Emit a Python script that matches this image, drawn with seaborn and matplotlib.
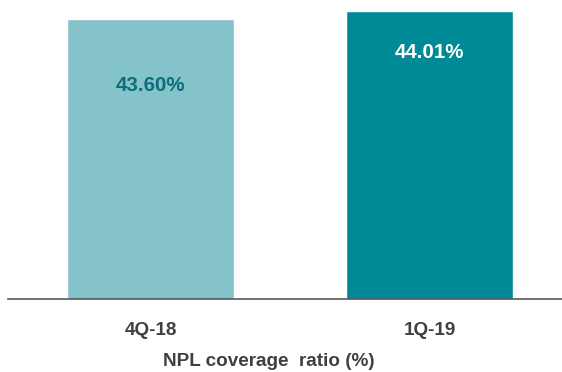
import matplotlib
matplotlib.use("Agg")
import matplotlib.pyplot as plt
import seaborn as sns
import pandas as pd

categories = ["4Q-18", "1Q-19"]
values = [43.60, 44.01]
labels = ["43.60%", "44.01%"]
bar_colors = ["#84C3CA", "#008996"]
label_colors = ["#0B6E78", "#FFFFFF"]

sns.set_style("white")
plt.rcParams['font.family'] = ['Liberation Sans', 'DejaVu Sans']

df = pd.DataFrame({"cat": categories, "val": values})

fig = plt.figure(figsize=(5.62, 3.72), dpi=100)
ax = fig.add_axes([8/562, (372-298.5)/372, 1-8/562, 298.5/372])
sns.barplot(data=df, x="cat", y="val", hue="cat", palette=bar_colors,
            width=0.6, legend=False, ax=ax, saturation=1)
ax.set_ylim(29.2, 44.58)
ax.set_xlim(-0.511, 1.475)

label_y = [40.2, 41.87]
for i, (lab, c) in enumerate(zip(labels, label_colors)):
    ax.text(i, label_y[i], lab, ha="center", va="center", color=c,
            fontsize=14.8, fontweight="bold")

for s in ["left", "top", "right"]:
    ax.spines[s].set_visible(False)
ax.spines["bottom"].set_color("#595959")
ax.spines["bottom"].set_linewidth(1.2)
ax.set_yticks([])
ax.tick_params(axis="x", length=0, pad=17, labelsize=13.6, labelcolor="#404040")
for t in ax.get_xticklabels():
    t.set_fontweight("bold")
ax.set_xlabel("NPL coverage  ratio (%)", fontsize=13.6, fontweight="bold",
              color="#404040")
ax.xaxis.set_label_coords((268.5-8)/554, -(361-298.5)/298.5)
ax.xaxis.label.set_va("center")
ax.set_ylabel("")

fig.savefig("out.png", dpi=100)
